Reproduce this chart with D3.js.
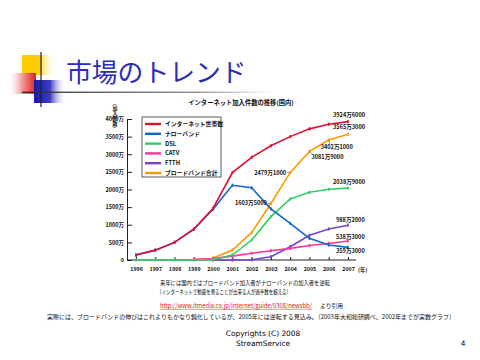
<!DOCTYPE html>
<html><head><meta charset="utf-8">
<script src="https://cdn.jsdelivr.net/npm/d3@7"></script>
<style>html,body{margin:0;padding:0;background:#fff;}svg{display:block;}</style>
</head><body>
<svg id="c" width="480" height="360"></svg>
<script>
const years = [1996,1997,1998,1999,2000,2001,2002,2003,2004,2005,2006,2007];
const seriesNames = ["インターネット世帯数","ナローバンド","DSL","CATV","FTTH","ブロードバンド合計"];
const internetTotal = [140,280,500,880,1470,2479,2910,3240,3500,3720,3850,3924.6];
const narrowband   = [140,280,500,870,1440,2120,2050,1450,1040,615,425,359.3];
const dsl          = [0,0,0,0,5,140,567,1230,1730,1920,2005,2038.9];
const catv         = [null,null,null,20,40,110,190,264,330,410,470,538.3];
const ftth         = [null,null,null,null,0,0,5,94,377,700,880,988.2];
const broadbandTot = [null,null,null,null,60,284,775,1603.5,2479.1,3081.9,3402.1,3565.3];
const yTicks = [0,500,1000,1500,2000,2500,3000,3500,4000];
const annotations = ["3924万6000","3565万3000","3402万1000","3081万9000","2479万1000","1603万5000","2038万9000","988万2000","538万3000","359万3000"];

const colors = ["#dd1133","#1166cc","#33cc66","#ff3399","#7744cc","#ff9900"];
const allSeries = [internetTotal,narrowband,dsl,catv,ftth,broadbandTot];

const svg = d3.select("#c");
const defs = svg.append("defs");
function grad(id, stops, x1,y1,x2,y2){
  const g = defs.append("linearGradient").attr("id",id).attr("x1",x1).attr("y1",y1).attr("x2",x2).attr("y2",y2);
  stops.forEach(s=>g.append("stop").attr("offset",s[0]).attr("stop-color",s[1]).attr("stop-opacity",s[2]===undefined?1:s[2]));
}
grad("gy",[[0,"#ffcc00"],[0.55,"#ffdd44"],[1,"#ffffff",0]],0,0,1,0);
grad("gr",[[0,"#ffffff",0],[0.5,"#f2a0a0"],[1,"#e02020"]],0,0,1,0);
grad("gb",[[0,"#1a1aaa"],[0.5,"#3a3ac0"],[1,"#ffffff",0]],0,0,1,0);
grad("gl",[[0,"#222222"],[0.7,"#888888"],[1,"#ffffff"]],0,0,1,0);

// header decoration
svg.append("rect").attr("x",22).attr("y",55).attr("width",34).attr("height",20).attr("fill","url(#gy)");
svg.append("rect").attr("x",22).attr("y",55).attr("width",20).attr("height",20).attr("fill","#ffcc00");
svg.append("rect").attr("x",7).attr("y",73).attr("width",29).attr("height",21).attr("fill","url(#gr)");
svg.append("rect").attr("x",34).attr("y",80).attr("width",32).attr("height",23).attr("fill","url(#gb)");
svg.append("line").attr("x1",41).attr("x2",41).attr("y1",52).attr("y2",107).attr("stroke","#222").attr("stroke-width",1.2);
svg.append("rect").attr("x",22).attr("y",91.6).attr("width",250).attr("height",1.3).attr("fill","url(#gl)");
svg.append("text").attr("x",66).attr("y",82).text("市場のトレンド")
  .attr("font-family","'Noto Sans CJK JP'").attr("font-size",25.8).attr("fill","#2c2cb4");

// chart
const x = d3.scaleLinear().domain([1996,2007]).range([136,348]);
const y = d3.scaleLinear().domain([0,4000]).range([260,119]);
const fontB = "'Noto Sans CJK JP'";

svg.append("text").attr("x",241).attr("y",105).attr("text-anchor","middle")
  .attr("font-family",fontB).attr("font-weight","bold").attr("font-size",6.3).attr("fill","#111")
  .text("インターネット加入件数の推移(国内)");

const yAxis = svg.append("g").attr("transform","translate(127,0)")
  .call(d3.axisLeft(y).tickValues(yTicks).tickSize(-5).tickPadding(4).tickFormat(d=>d===0?"0":d+"万"));
yAxis.select(".domain").attr("stroke","#222").attr("stroke-width",1);
yAxis.selectAll(".tick line").attr("stroke","#222");
yAxis.selectAll("text").attr("font-family",fontB).attr("font-weight","bold").attr("font-size",5.5).attr("fill","#111").attr("x",-3);

svg.append("text").attr("x",115).attr("y",104).attr("font-family",fontB).attr("font-weight","bold")
  .attr("font-size",5).attr("fill","#111").attr("writing-mode","vertical-rl").text("(加入件数)");

const xAxis = svg.append("g").attr("transform","translate(0,260)")
  .call(d3.axisBottom(x).tickValues(years).tickSize(-3).tickPadding(7).tickFormat(d3.format("d")));
xAxis.select(".domain").attr("d","M127,0H356").attr("stroke","#222");
xAxis.selectAll(".tick line").attr("stroke","#222");
xAxis.selectAll("text").attr("font-family",fontB).attr("font-weight","bold").attr("font-size",5.3).attr("fill","#111");
svg.append("text").attr("x",358).attr("y",272).attr("font-family",fontB).attr("font-weight","bold")
  .attr("font-size",5.3).attr("fill","#111").text("(年)");

const line = d3.line().defined(d=>d[1]!==null).x(d=>x(d[0])).y(d=>y(d[1]));
const order = [5,4,3,2,1,0];
order.forEach(i=>{
  const pts = years.map((yr,j)=>[yr,allSeries[i][j]]);
  svg.append("path").datum(pts).attr("d",line).attr("fill","none").attr("stroke",colors[i]).attr("stroke-width",1.6);
  svg.append("g").selectAll("rect").data(pts.filter(p=>p[1]!==null)).join("rect")
    .attr("x",p=>x(p[0])-0.8).attr("y",p=>y(p[1])-1.6).attr("width",1.6).attr("height",3.2).attr("fill",colors[i]);
});

// legend
const lg = svg.append("g");
lg.append("rect").attr("x",142).attr("y",117).attr("width",79).attr("height",60).attr("fill","#fff").attr("stroke","#333").attr("stroke-width",0.8);
seriesNames.forEach((n,i)=>{
  const yy = 124+i*9.8;
  lg.append("line").attr("x1",145).attr("x2",161).attr("y1",yy).attr("y2",yy).attr("stroke",colors[i]).attr("stroke-width",2.4);
  lg.append("text").attr("x",165).attr("y",yy+2).attr("font-family",fontB).attr("font-weight","bold")
    .attr("font-size",5.8).attr("fill","#111").text(n);
});

// annotations
const annSpec = [
  {s:0,yr:2007,dx:-15,dy:-5,a:"start"},
  {s:5,yr:2007,dx:-15,dy:-5,a:"start"},
  {s:5,yr:2006,dx:-8,dy:9,a:"start",lead:true},
  {s:5,yr:2005,dx:2,dy:8,a:"start",lead:true},
  {s:5,yr:2004,dx:-4,dy:2,a:"end",dash:true},
  {s:5,yr:2003,dx:-4,dy:2,a:"end",dash:true},
  {s:2,yr:2007,dx:-15,dy:-4,a:"start"},
  {s:4,yr:2007,dx:-12,dy:-3,a:"start"},
  {s:3,yr:2007,dx:-12,dy:-2,a:"start"},
  {s:1,yr:2007,dx:-12,dy:6,a:"start"}
];
annSpec.forEach((sp,k)=>{
  const px = x(sp.yr), py = y(allSeries[sp.s][years.indexOf(sp.yr)]);
  svg.append("text").attr("x",px+sp.dx).attr("y",py+sp.dy).attr("text-anchor",sp.a)
    .attr("font-family",fontB).attr("font-weight","bold").attr("font-size",5.6).attr("fill","#111").text(annotations[k]);
  if(sp.dash){
    svg.append("line").attr("x1",px+sp.dx+1).attr("x2",px-1).attr("y1",py).attr("y2",py).attr("stroke","#555").attr("stroke-width",0.6);
  }
  if(sp.lead){
    svg.append("line").attr("x1",px).attr("x2",px+sp.dx+(sp.dx<0?9:1)).attr("y1",py).attr("y2",py+sp.dy-5).attr("stroke","#555").attr("stroke-width",0.6);
  }
});

// notes
const notes = svg.append("g").attr("font-family",fontB).attr("font-size",6.2).attr("fill","#111");
notes.append("text").attr("x",160).attr("y",285).attr("textLength",170).attr("lengthAdjust","spacingAndGlyphs")
  .text("来年には国内ではブロードバンド加入者がナローバンドの加入者を逆転");
notes.append("text").attr("x",157).attr("y",294).attr("textLength",134).attr("lengthAdjust","spacingAndGlyphs")
  .text("（インターネットで動画を見ることが出来る人が過半数を超える）");
notes.append("text").attr("x",160).attr("y",308).attr("textLength",152).attr("lengthAdjust","spacingAndGlyphs")
  .attr("fill","#ee1111")
  .text("http://www.itmedia.co.jp/internet/guide/0308/newsbb/");
notes.append("line").attr("x1",160).attr("x2",312).attr("y1",309.3).attr("y2",309.3).attr("stroke","#ee1111").attr("stroke-width",0.5);
notes.append("text").attr("x",320).attr("y",308).attr("textLength",23).attr("lengthAdjust","spacingAndGlyphs").text("より引用");
notes.append("text").attr("x",47).attr("y",319).attr("textLength",408).attr("lengthAdjust","spacingAndGlyphs")
  .text("実際には、ブロードバンドの伸びはこれよりもかなり鈍化しているが、2005年には逆転する見込み。（2003年大和総研調べ、2002年までが実数グラフ）");

// footer
const ft = svg.append("g").attr("font-family","'DejaVu Sans'").attr("font-size",7.4).attr("fill","#000");
ft.append("text").attr("x",263).attr("y",336).attr("text-anchor","middle").text("Copyrights (C) 2008");
ft.append("text").attr("x",263).attr("y",346).attr("text-anchor","middle").text("StreamService");
ft.append("text").attr("x",463).attr("y",346).attr("text-anchor","middle").text("4");
</script>
</body></html>
